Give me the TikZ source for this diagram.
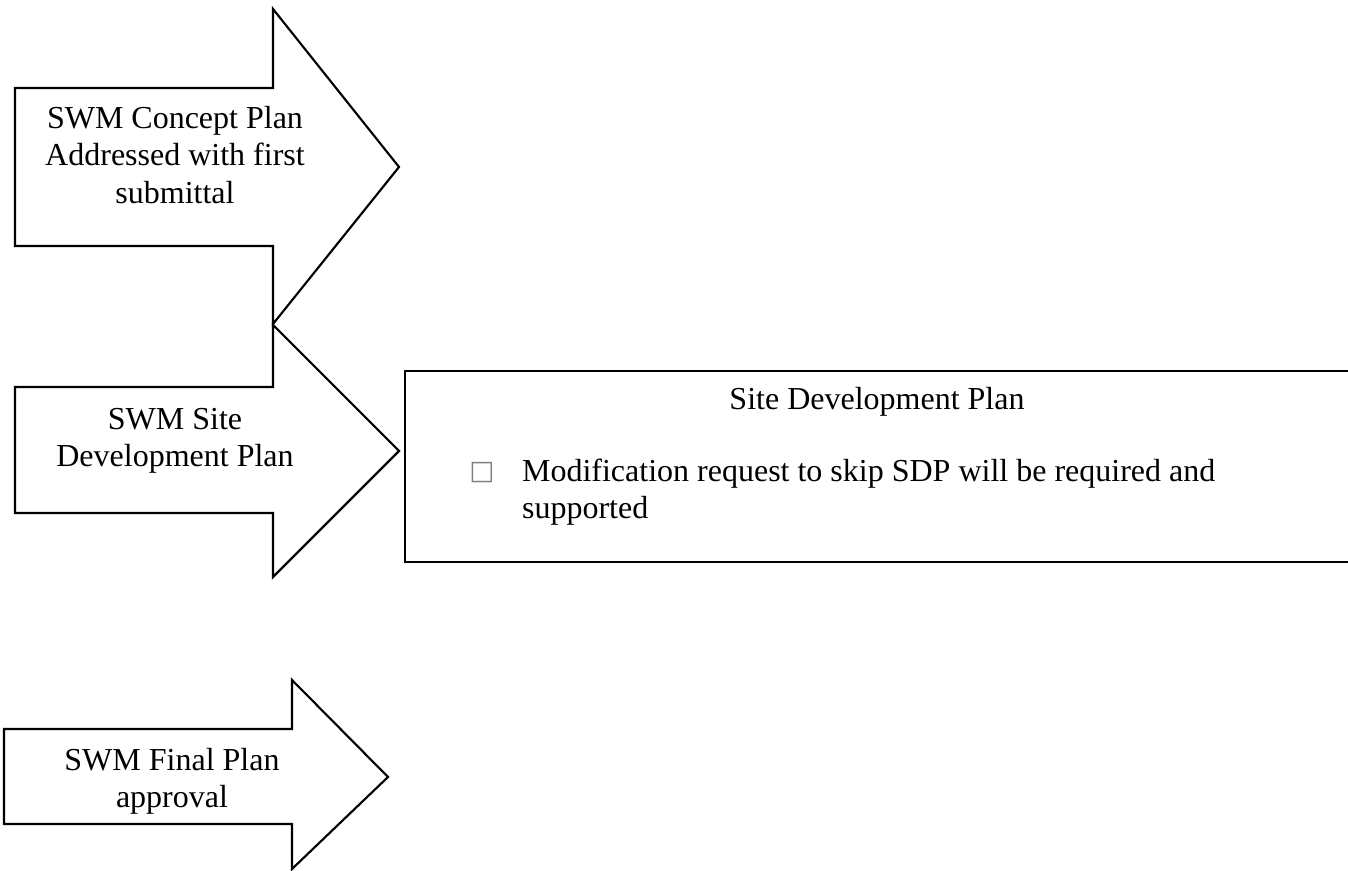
\documentclass[tikz,border=0pt]{standalone}
\usepackage{fontspec}
\setmainfont{Liberation Serif}
\newfontfamily\symfont{DejaVu Sans}
\usetikzlibrary{positioning}

\begin{document}
\begin{tikzpicture}[x=0.375pt, y=-0.375pt, line width=0.8pt,
	arrowtext/.style={align=center, font=\fontsize{12}{13.9}\selectfont},
	boxtext/.style={inner sep=0pt, font=\fontsize{12}{13.9}\selectfont}]
	\useasboundingbox (0,0) rectangle (1348,871);

	% Arrow outlines {concept, site development, final}
	\draw (15,88) -- (273,88) -- (273,9) -- (399,167) -- (273,324) -- (273,246) -- (15,246) -- cycle;
	\draw (15,387) -- (273,387) -- (273,325) -- (399,451) -- (273,577) -- (273,513) -- (15,513) -- cycle;
	\draw (4,729) -- (292,729) -- (292,680) -- (388,777) -- (292,869) -- (292,824) -- (4,824) -- cycle;

	% Box for the site development plan
	\draw (405,371) rectangle (1352,562);

	% Arrow texts
	\node [arrowtext] (concept) at (175,155) {SWM Concept Plan\\Addressed with first\\submittal};
	\node [arrowtext] (sitedev) at (175,441) {SWM Site\\Development Plan};
	\node [arrowtext] (final)   at (172,781) {SWM Final Plan\\approval};

	% Box texts
	\node [boxtext, anchor=base] (sdptitle) at (877,410) {Site Development Plan};
	\node [inner sep=0pt, text=gray, font=\symfont\fontsize{10}{10}\selectfont] (tofu) at (482,473) {□};
	\node [boxtext, anchor=base west, align=left] (sdpnote) at (521,519) {Modification request to skip SDP will be required and\\supported};
\end{tikzpicture}
\end{document}
